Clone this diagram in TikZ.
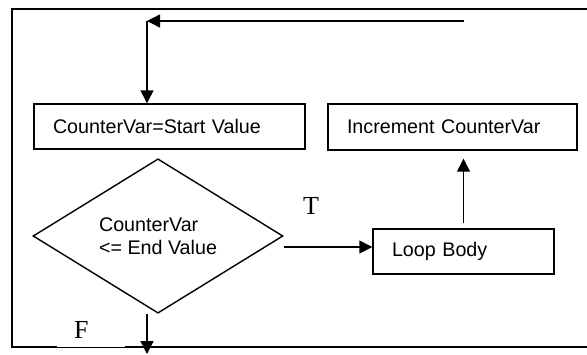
\documentclass[tikz,border=0pt]{standalone}
\usepackage{fontspec}
\setmainfont{Liberation Serif}
\setsansfont{Liberation Sans}
\usetikzlibrary{shapes.geometric,arrows.meta,calc}

\tikzset{every picture/.style={line width=1.4pt}}

\begin{document}
\begin{tikzpicture}[x=1pt,y=1pt,yscale=-1,xscale=1,
  procbox/.style={draw, rectangle, inner xsep=19pt, inner ysep=0pt, minimum height=45pt, align=left,
    font=\sffamily\fontsize{19.7pt}{22.5pt}\selectfont},
  decision/.style={draw, diamond, inner sep=0pt, minimum width=250pt, minimum height=111pt, align=left,
    font=\sffamily\fontsize{19.7pt}{22.5pt}\selectfont},
  lbl/.style={font=\rmfamily\fontsize{26pt}{30pt}\selectfont},
  flow/.style={-{Triangle[length=13pt,width=13pt]}}]
\useasboundingbox (0,0) rectangle (587,354);

%Shape: Rectangle [frame]
\draw (12,9) rectangle (600,347);

%Shape: Rectangle [init]
\node (init) [procbox, text width=233pt] at (169.5,126.5) {CounterVar=Start Value};
%Shape: Rectangle [incr]
\node (incr) [procbox, text width=211pt, minimum height=46pt] at (452.5,127) {Increment CounterVar};
%Shape: Rectangle [body]
\node (body) [procbox, text width=143pt] at (463.5,251.5) {Loop Body};
%Shape: Diamond [test]
\node (test) [decision] at (158,236) {CounterVar\\<= End Value};

\coordinate (loopend) at (464,21);
\coordinate (corner) at (147,21);
\coordinate (exit) at (147,354);
\coordinate (tout) at ($(test.east)+(0,11)$);
\coordinate (fout) at ($(test.south)+(-11,0)$);

%Straight Lines [back to start]
\draw [flow] (loopend) -- (corner);
\draw [flow] (corner) -- (corner |- init.north);
%Straight Lines [true branch]
\draw [flow] (tout) -- (tout -| body.west);
%Straight Lines [to increment]
\draw [flow, shorten <=5pt, shorten >=8pt] (body.north) -- (body.north |- incr.south);
%Straight Lines [false branch]
\draw [flow] (fout) -- (exit);

% Text Node
\node (tlabel) [lbl] at (311,206) {T};
% Text Node
\node (flabel) [lbl, fill=white, inner sep=0pt, text width=68pt, minimum height=35pt, align=left] at (91,329.5) {\hspace*{17pt}F};

\end{tikzpicture}
\end{document}
